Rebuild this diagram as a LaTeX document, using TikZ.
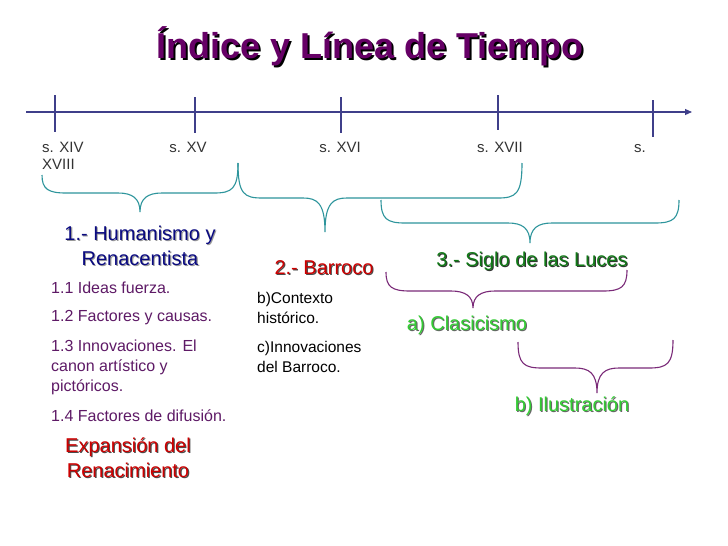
\documentclass[tikz,border=0pt]{standalone}
\usepackage{fontspec}
\setmainfont{Liberation Sans}
\usetikzlibrary{arrows.meta,positioning}
\definecolor{titlepurple}{HTML}{660066}
\definecolor{axisnavy}{HTML}{3F3F8A}
\definecolor{braceteal}{HTML}{2E959C}
\definecolor{bracepurple}{HTML}{7A2A78}
\definecolor{humblue}{HTML}{0A0A80}
\definecolor{itempurple}{HTML}{5E1A66}
\definecolor{barred}{HTML}{CC0000}
\definecolor{lucesgreen}{HTML}{117A17}
\definecolor{lightgreen}{HTML}{33CC33}
\definecolor{labelgray}{HTML}{333333}

% text with a small drop shadow
\newcommand{\shtxt}[2][black!80]{\makebox[0pt][l]{\kern1.1pt\raisebox{-1.1pt}{\color{#1}#2}}#2}
% heavier shadow for the title
\newcommand{\titletxt}[1]{\makebox[0pt][l]{\kern2pt\raisebox{-2pt}{\color{black}#1}}#1}
% curly brace: style, left x/y, tip x/y, right x/y, bar height
\newcommand{\curlybrace}[8]{%
  \draw[#1] (#2,#3) .. controls (#2,{#8-4}) and ({#2+6},#8) .. ({#2+24},#8)
    -- ({#4-22},#8) .. controls ({#4-8},#8) and (#4,{#8+5}) .. (#4,#5)
    .. controls (#4,{#8+5}) and ({#4+8},#8) .. ({#4+22},#8)
    -- ({#6-24},#8) .. controls ({#6-6},#8) and (#6,{#8-4}) .. (#6,#7);}

\begin{document}
\begin{tikzpicture}[
    x=1pt, y=-1pt,
    title/.style={inner sep=0pt, text=titlepurple, font=\fontsize{36}{40}\selectfont\bfseries},
    centurylabel/.style={inner sep=0pt, anchor=base, text=labelgray, font=\fontsize{15}{17}\selectfont},
    heading/.style={inner sep=0pt, align=center, font=\fontsize{20}{25}\selectfont},
    item/.style={inner sep=0pt, anchor=west, align=left, text=itempurple, font=\fontsize{16}{20}\selectfont},
    subitem/.style={inner sep=0pt, anchor=west, align=left, text=black, font=\fontsize{15.5}{20}\selectfont},
    axisline/.style={draw=axisnavy, line width=1.1pt},
    tealbrace/.style={draw=braceteal, line width=1.1pt},
    purplebrace/.style={draw=bracepurple, line width=1.1pt}
]
  \useasboundingbox[fill=white] (0,0) rectangle (728,546);

  \node[title] (titulo) at (370,47) {\titletxt{Índice y Línea de Tiempo}};

  % time line
  \coordinate (axisstart) at (26,112);
  \coordinate (axisend) at (692,112);
  \draw[axisline, -{Triangle[length=7pt,width=6pt]}] (axisstart) -- (axisend);
  \foreach \x/\top/\bot in {55/95/132, 195/97/133, 341/97/133, 498/95/130, 653/100/137}
    \draw[axisline] (\x,\top) -- (\x,\bot);

  \node[centurylabel, anchor=base west] (s14) at (42,152) {s. XIV};
  \node[centurylabel, anchor=base west] (s18) at (42,169) {XVIII};
  \node[centurylabel] (s15) at (188,152) {s. XV};
  \node[centurylabel] (s16) at (340,152) {s. XVI};
  \node[centurylabel] (s17) at (500,152) {s. XVII};
  \node[centurylabel] (sx) at (640,152) {s.};

  % braces
  \curlybrace{tealbrace}{42}{175}{140}{212}{238}{163}{193}
  \curlybrace{tealbrace}{238}{163}{325}{232}{522}{163}{198}
  \curlybrace{tealbrace}{381}{200}{530}{243}{679}{200}{223}
  \curlybrace{purplebrace}{386}{272}{473}{308}{627}{270}{291}
  \curlybrace{purplebrace}{518}{342}{597}{393}{673}{340}{368}

  % 1.- Humanismo
  \node[heading, text=humblue] (humanismo) at (140,246) {\shtxt[black!40]{1.- Humanismo y}\\\shtxt[black!40]{Renacentista}};
  \node[item] (ideas) at (51,288) {1.1 Ideas fuerza.};
  \node[item] (factores) at (51,318) {1.2 Factores y causas.};
  \node[item] (innov) at (51,367) {1.3 Innovaciones. El\\canon artístico y\\pictóricos.};
  \node[item] (difusion) at (51,416) {1.4 Factores de difusión.};
  \node[heading, text=barred] (expansion) at (128,458) {\shtxt[black!70]{Expansión del}\\\shtxt[black!70]{Renacimiento}};

  % 2.- Barroco
  \node[heading, text=barred] (barroco) at (324,268) {\shtxt[black!70]{2.- Barroco}};
  \node[subitem] (contexto) at (257,308) {b)Contexto\\histórico.};
  \node[subitem] (innovbarroco) at (257,357) {c)Innovaciones\\del Barroco.};

  % 3.- Siglo de las Luces
  \node[heading, text=lucesgreen] (luces) at (532,262) {\shtxt[black!80]{3.- Siglo de las Luces}};
  \node[heading, text=lightgreen] (clasicismo) at (467,326) {\shtxt[black!60]{a) Clasicismo}};
  \node[heading, text=lightgreen] (ilustracion) at (572,407) {\shtxt[black!60]{b) Ilustración}};
\end{tikzpicture}
\end{document}
